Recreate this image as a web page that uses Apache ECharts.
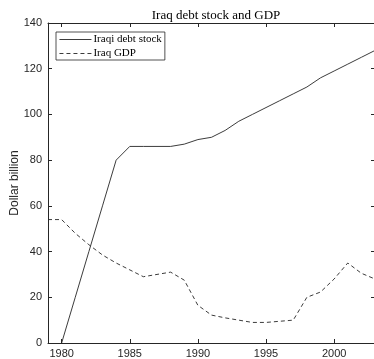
<!DOCTYPE html>
<html><head><meta charset="utf-8">
<script src="https://cdn.jsdelivr.net/npm/echarts@6/dist/echarts.min.js"></script>
<style>html,body{margin:0;padding:0;background:#fff}#c{width:374px;height:359px}</style>
</head><body><div id="c"></div>
<script>
const years = [1979,1980,1981,1982,1983,1984,1985,1986,1987,1988,1989,1990,1991,1992,1993,1994,1995,1996,1997,1998,1999,2000,2001,2002,2003];
const debtStock = [null,0,20,40,60,80,86,86,86,86,87,89,90,93,97,100,103,106,109,112,116,119,122,125,128];
const gdp = [54,54,48,43,38.5,35,32,29,30,31,27.5,16.5,12.2,11,10,9,9,9.5,10,20,22.3,28,35,30.5,28];
const xTicks = [1980,1985,1990,1995,2000];
const pair = a => years.map((y,i)=>[y,a[i]]);
const axColor = '#262626';
const chart = echarts.init(document.getElementById('c'));
const xBase = {type:'value', min:1979, max:2003,
  axisLine:{show:true,onZero:false,lineStyle:{color:axColor,width:1}},
  axisTick:{show:true,inside:true,length:4,customValues:xTicks,lineStyle:{color:axColor}},
  splitLine:{show:false}};
const yBase = {type:'value', min:0, max:140, interval:20,
  axisLine:{show:true,onZero:false,lineStyle:{color:axColor,width:1}},
  axisTick:{show:true,inside:true,length:4,lineStyle:{color:axColor}},
  splitLine:{show:false}};
chart.setOption({
  animation:false,
  title:{text:'Iraq debt stock and GDP', left:211, textAlign:'center', top:4,
    textStyle:{fontFamily:'Liberation Serif', fontWeight:'normal', fontSize:13, color:'#000'}},
  grid:{left:48, top:23, width:327, height:320, outerBoundsMode:'none', containLabel:false},
  legend:{left:56, top:32, orient:'vertical', itemWidth:32, itemHeight:10, itemGap:3,
    padding:[2,3,1,3], borderColor:axColor, borderWidth:0.8, borderRadius:0,
    itemStyle:{opacity:0}, lineStyle:{width:0.9},
    textStyle:{fontFamily:'Liberation Serif', fontSize:11, color:'#000', padding:[0,0,0,-3]},
    data:['Iraqi debt stock','Iraq GDP']},
  xAxis:[
    Object.assign({}, xBase, {position:'bottom',
      axisLabel:{customValues:xTicks, formatter:v=>String(v), color:axColor, fontFamily:'Liberation Sans', fontSize:11, margin:5}}),
    Object.assign({}, xBase, {position:'top',
      axisLabel:{show:true, customValues:xTicks, formatter:()=>'', color:'rgba(0,0,0,0)'}})
  ],
  yAxis:[
    Object.assign({}, yBase, {position:'left', name:'Dollar billion', nameLocation:'middle', nameGap:27,
      nameMoveOverlap:false,
      nameTextStyle:{fontFamily:'Liberation Sans', fontSize:12, color:axColor},
      axisLabel:{color:axColor, fontFamily:'Liberation Sans', fontSize:11, margin:6}}),
    Object.assign({}, yBase, {position:'right', axisLabel:{show:true, formatter:()=>'', color:'rgba(0,0,0,0)'}})
  ],
  series:[
    {name:'Iraqi debt stock', type:'line', data:pair(debtStock), symbol:'none',
      lineStyle:{color:'#262626', width:0.9, type:'solid'}, itemStyle:{color:'#262626'}},
    {name:'Iraq GDP', type:'line', data:pair(gdp), symbol:'none',
      lineStyle:{color:'#262626', width:0.9, type:[4,3]}, itemStyle:{color:'#262626'}}
  ]
});
</script></body></html>
